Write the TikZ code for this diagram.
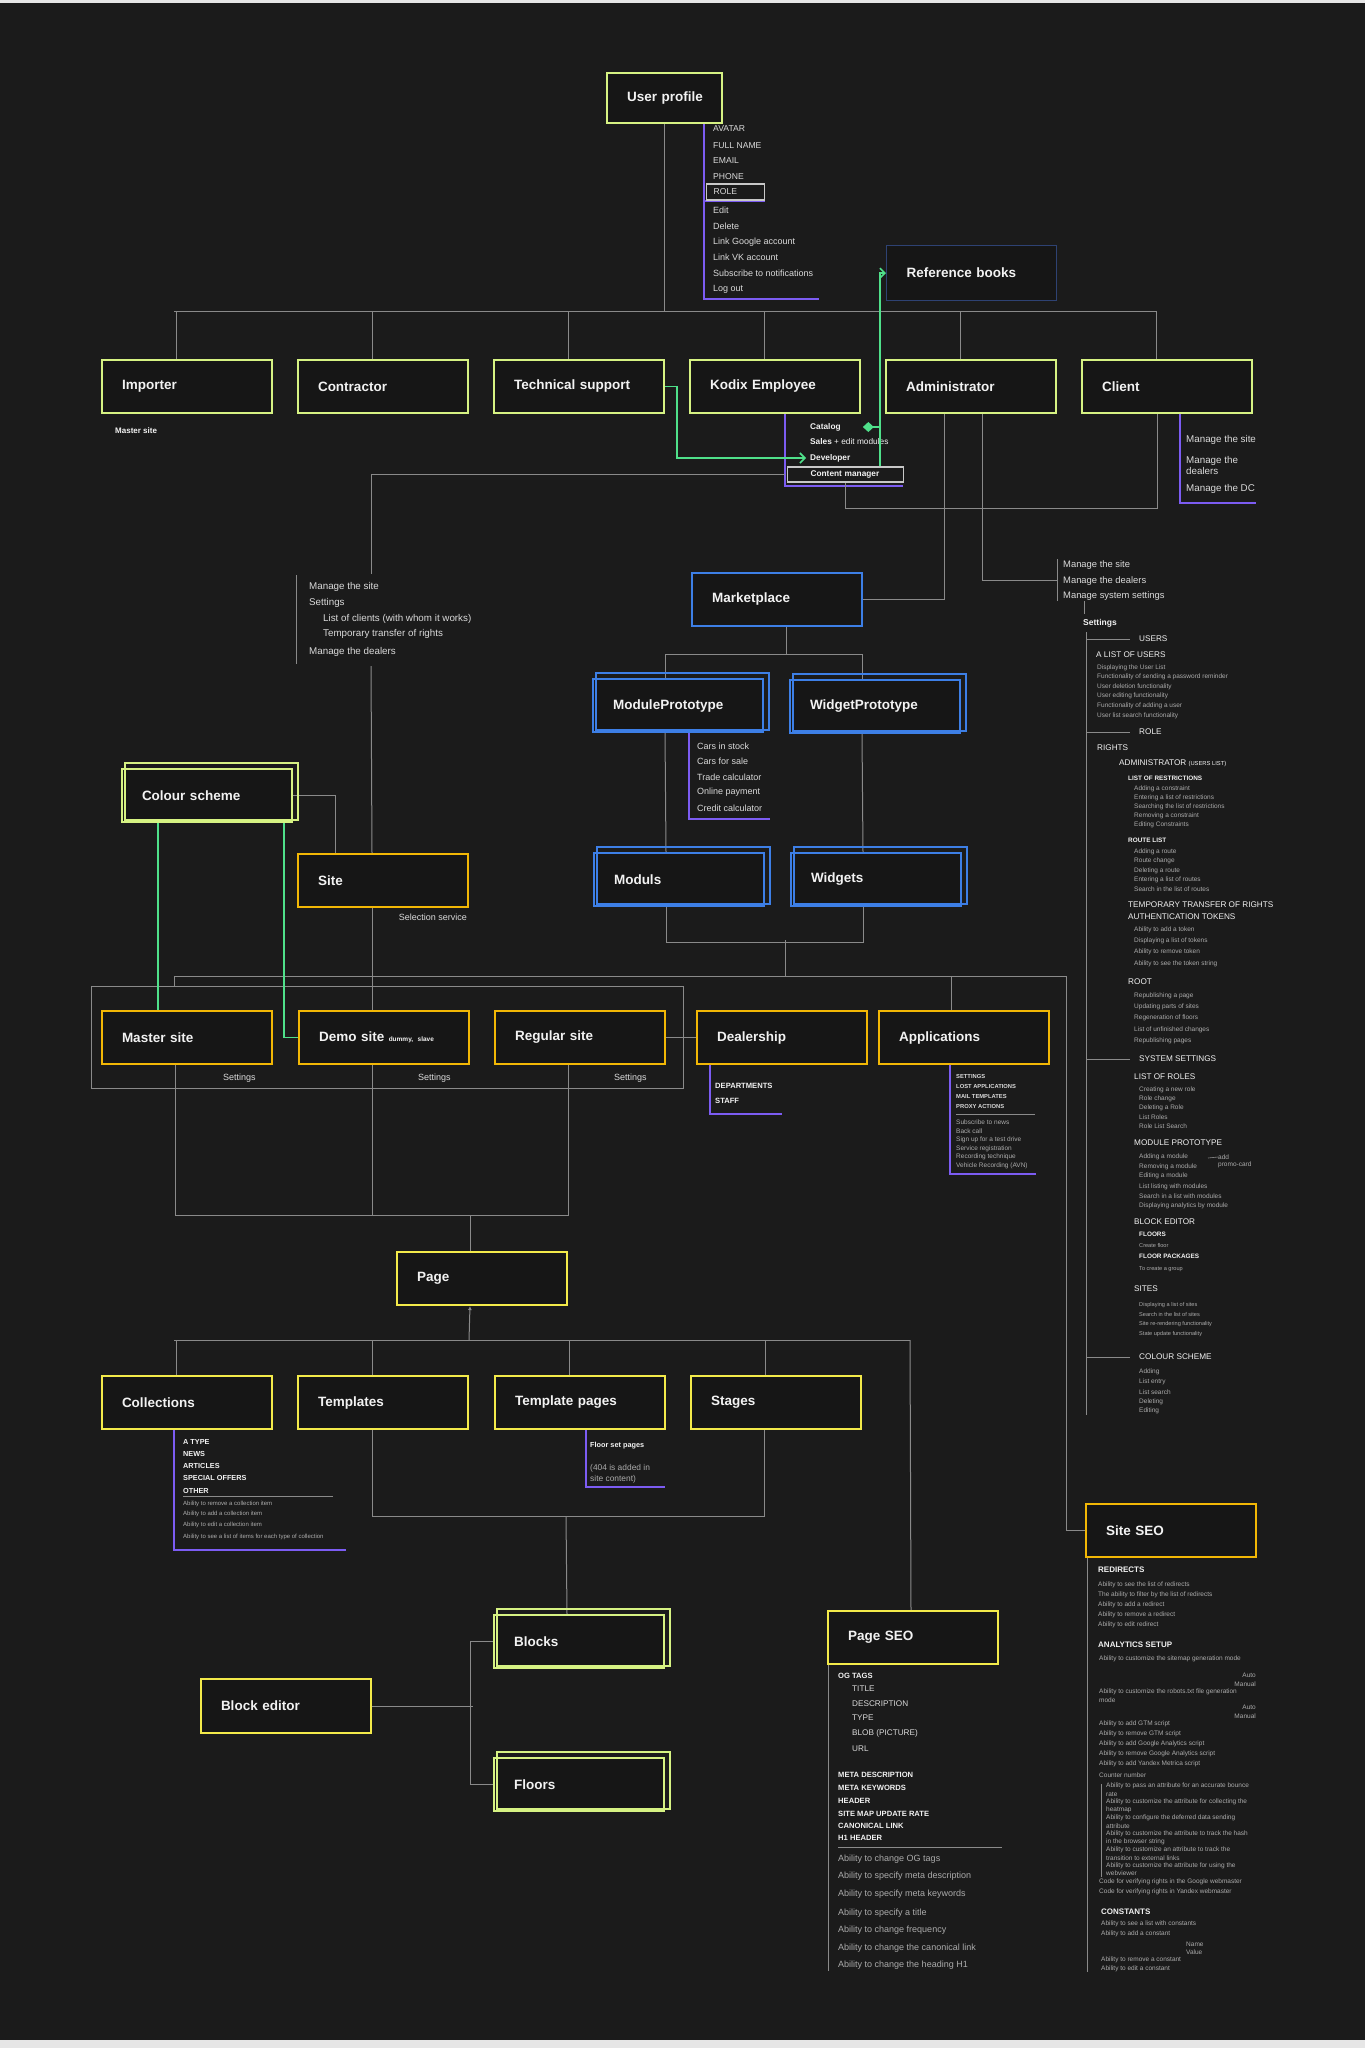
\documentclass[tikz,border=0pt]{standalone}
\usepackage{fontspec}
\setmainfont{Liberation Sans}
\usetikzlibrary{positioning, arrows.meta, calc}

\definecolor{bgC}{HTML}{1B1B1B}
\definecolor{boxC}{HTML}{161616}
\definecolor{limeC}{HTML}{D6F283}
\definecolor{yelC}{HTML}{F3EA4A}
\definecolor{orC}{HTML}{F2B705}
\definecolor{blueC}{HTML}{3D7FE6}
\definecolor{navyC}{HTML}{2E4273}
\definecolor{purC}{HTML}{7C5CF2}
\definecolor{grnC}{HTML}{4FE08A}
\definecolor{wireC}{HTML}{8A8A8A}
\definecolor{frameC}{HTML}{C8C8C8}
\definecolor{titleC}{HTML}{F2F2F2}
\definecolor{itemC}{HTML}{DADADA}
\definecolor{dimC}{HTML}{ABABAB}
\definecolor{edgeC}{HTML}{E6E6E6}

\newcommand\fTitle{\fontsize{13.5}{16}\selectfont\bfseries}
\newcommand\fItem{\fontsize{9}{11}\selectfont}
\newcommand\fText{\fontsize{9.8}{11}\selectfont}
\newcommand\fTiny{\fontsize{6.5}{8}\selectfont}
\newcommand\fMicro{\fontsize{5.6}{7}\selectfont}

\pgfdeclarelayer{back}
\pgfdeclarelayer{wires}
\pgfsetlayers{back,wires,main}

\begin{document}
\begin{tikzpicture}[x=1pt, y=-1pt,
  box/.style={draw, line width=2pt, fill=boxC, anchor=north west,
    minimum width=170pt, minimum height=53pt, text width=130pt,
    inner xsep=20pt, inner ysep=0pt, align=left, text=titleC, font=\fTitle},
  limebox/.style={box, draw=limeC},
  yelbox/.style={box, draw=yelC},
  orbox/.style={box, draw=orC},
  bluebox/.style={box, draw=blueC},
  navybox/.style={box, draw=navyC, line width=1.3pt},
  twin/.style={line width=1.3pt},
  wire/.style={draw=wireC, line width=1pt},
  pur/.style={draw=purC, line width=2.2pt},
  grn/.style={draw=grnC, line width=1.6pt},
  item/.style={anchor=west, inner sep=0pt, text=itemC, font=\fItem},
  capitem/.style={item, font=\fontsize{8.6}{10}\selectfont},
  kitem/.style={item, text=titleC, font=\fontsize{8.3}{10}\selectfont\bfseries},
  txt/.style={item, font=\fText},
  head/.style={item, text=titleC, font=\fontsize{8.2}{10}\selectfont},
  hbold/.style={item, text=titleC, font=\fontsize{6.4}{8}\selectfont\bfseries},
  tiny/.style={item, text=dimC, font=\fTiny},
  micro/.style={item, text=dimC, font=\fMicro},
  capbold/.style={item, text=titleC, font=\fontsize{7.6}{9}\selectfont\bfseries},
  pcap/.style={item, font=\fontsize{8.2}{10}\selectfont},
  pdim/.style={item, text=dimC, font=\fontsize{9}{11}\selectfont},
  abold/.style={item, text=itemC, font=\fontsize{5.8}{7}\selectfont\bfseries},
  dia/.style={{Diamond[length=11pt,width=10pt]}-},
  chev/.style={-{Straight Barb[length=5pt,width=10pt]}}
]

\begin{pgfonlayer}{back}
\fill[bgC] (0,0) rectangle (1365,2048);
\fill[edgeC] (0,0) rectangle (1365,3);
\fill[edgeC] (0,2040) rectangle (1365,2048);
\end{pgfonlayer}
\useasboundingbox (0,0) rectangle (1365,2048);

% ---------- boxes ----------
\node[limebox, minimum width=115pt, minimum height=50pt, text width=75pt] (profile) at (606,72) {\mbox{User profile}};
\node[navybox, minimum height=55pt] (refbooks) at (886,245) {Reference books};

\node[limebox] (importer)   at (101,359)  {Importer};
\node[limebox] (contractor) at (297,359)  {Contractor};
\node[limebox] (support)    at (493,359)  {Technical support};
\node[limebox] (kodix)      at (689,359)  {Kodix Employee};
\node[limebox] (admin)      at (885,359)  {Administrator};
\node[limebox] (client)     at (1081,359) {Client};

\node[bluebox] (market) at (691,572) {Marketplace};
\node[bluebox] (modproto)  at (592,678) {ModulePrototype};
\node[bluebox] (widgproto) at (789,679) {WidgetPrototype};
\node[bluebox] (moduls)    at (593,852) {Moduls};
\node[bluebox] (widgets)   at (790,852) {Widgets};
\node[limebox] (colour)    at (121,768) {Colour scheme};

\node[orbox] (site)    at (297,853)  {Site};
\node[orbox] (master)  at (101,1010) {Master site};
\node[orbox] (demo)    at (298,1010) {Demo site {\fontsize{6.5}{8}\selectfont dummy, slave}};
\node[orbox] (regular) at (494,1010) {Regular site};
\node[orbox] (dealer)  at (696,1010) {Dealership};
\node[orbox] (apps)    at (878,1010) {Applications};

\node[yelbox] (page)        at (396,1251) {Page};
\node[yelbox] (collections) at (101,1375) {Collections};
\node[yelbox] (templates)   at (297,1375) {Templates};
\node[yelbox] (tpages)      at (494,1375) {Template pages};
\node[yelbox] (stages)      at (690,1375) {Stages};

\node[orbox]  (siteseo) at (1085,1503) {Site SEO};
\node[yelbox] (pageseo) at (827,1610)  {Page SEO};
\node[yelbox, minimum width=168pt, minimum height=54pt] (beditor) at (200,1678) {Block editor};
\node[limebox] (blocks) at (493,1614) {Blocks};
\node[limebox] (floors) at (493,1757) {Floors};

% second frames of the doubled boxes
\foreach \n/\c in {modproto/blueC, widgproto/blueC, moduls/blueC, widgets/blueC, colour/limeC, blocks/limeC, floors/limeC}
  \draw[twin, draw=\c] ([xshift=4pt,yshift=5pt]\n.north west) rectangle ([xshift=5pt,yshift=3pt]\n.south east);

% ---------- user profile fields ----------
\foreach \t/\y in {AVATAR/129, FULL NAME/146, EMAIL/161, PHONE/177}
  \node[capitem] at (713,\y) {\t};
\node[capitem, draw=frameC, line width=1.2pt, inner xsep=7pt, minimum height=16pt, text width=44pt] (role) at (706,192) {ROLE};
\foreach \t/\y in {Edit/210, Delete/226, Link Google account/242, Link VK account/257, Subscribe to notifications/273, Log out/289}
  \node[item] at (713,\y) {\t};

% ---------- kodix roles ----------
\node[kitem] (catalog) at (810,427) {Catalog};
\node[kitem] at (810,442) {Sales {\mdseries + edit modules}};
\node[kitem] (developer) at (810,458) {Developer};
\node[kitem, draw=frameC, line width=1.2pt, inner xsep=23pt, minimum height=15pt, text width=70pt] (cmgr) at (787,474.5) {\mbox{Content manager}};

\node[capbold, font=\fontsize{8}{9}\selectfont\bfseries] at (115,431) {Master site};

% ---------- client ----------
\node[txt] at (1186,440) {Manage the site};
\node[txt, align=left] at (1186,465) {Manage the\\dealers};
\node[txt] at (1186,489) {Manage the DC};

% ---------- site rights ----------
\foreach \t/\x/\y in {Manage the site/309/587, Settings/309/603, List of clients (with whom it works)/323/619, Temporary transfer of rights/323/634, Manage the dealers/309/652}
  \node[txt] at (\x,\y) {\t};

% ---------- administrator ----------
\foreach \t/\y in {Manage the site/565, Manage the dealers/581, Manage system settings/596}
  \node[txt, font=\fontsize{9.4}{11}\selectfont] at (1063,\y) {\t};
\node[item, text=titleC, font=\fontsize{8.5}{10}\selectfont\bfseries] at (1083,623) {Settings};

\foreach \t/\x/\y in {USERS/1139/639, A LIST OF USERS/1096/655, ROLE/1139/732, RIGHTS/1097/748, TEMPORARY TRANSFER OF RIGHTS/1128/905, AUTHENTICATION TOKENS/1128/917, ROOT/1128/982, SYSTEM SETTINGS/1139/1059, LIST OF ROLES/1134/1077, MODULE PROTOTYPE/1134/1143, BLOCK EDITOR/1134/1222, SITES/1134/1289, COLOUR SCHEME/1139/1357}
  \node[head] at (\x,\y) {\t};
\node[head] at (1119,763) {ADMINISTRATOR {\fontsize{5.8}{7}\selectfont(USERS LIST)}};
\foreach \t/\x/\y in {LIST OF RESTRICTIONS/1128/778, ROUTE LIST/1128/840, FLOORS/1139/1234, FLOOR PACKAGES/1139/1256}
  \node[hbold] at (\x,\y) {\t};
\foreach \t/\y in {Displaying the User List/668, Functionality of sending a password reminder/677, User deletion functionality/687, User editing functionality/696, Functionality of adding a user/706, User list search functionality/716}
  \node[tiny] at (1097,\y) {\t};
\foreach \t/\y in {Adding a constraint/789, Entering a list of restrictions/798, Searching the list of restrictions/807, Removing a constraint/816, Editing Constraints/825, Adding a route/852, Route change/861, Deleting a route/871, Entering a list of routes/880, Search in the list of routes/889, Ability to add a token/930, Displaying a list of tokens/941, Ability to remove token/952, Ability to see the token string/964, Republishing a page/996, Updating parts of sites/1007, Regeneration of floors/1018, List of unfinished changes/1030, Republishing pages/1041}
  \node[tiny] at (1134,\y) {\t};
\foreach \t/\y in {Creating a new role/1090, Role change/1099, Deleting a Role/1108, List Roles/1117, Role List Search/1126, Adding a module/1157, Removing a module/1167, Editing a module/1176, List listing with modules/1187, Search in a list with modules/1196, Displaying analytics by module/1206, Adding/1372, List entry/1382, List search/1392, Deleting/1402, Editing/1411}
  \node[tiny] at (1139,\y) {\t};
\foreach \t/\y in {Create floor/1245, To create a group/1269, Displaying a list of sites/1305, Search in the list of sites/1314, Site re-rendering functionality/1324, State update functionality/1334}
  \node[micro] at (1139,\y) {\t};
\node[tiny] (addnote) at (1218,1157) {add};
\node[tiny] at (1218,1165) {promo-card};

% ---------- marketplace modules ----------
\foreach \t/\y in {Cars in stock/746, Cars for sale/761, Trade calculator/777, Online payment/792, Credit calculator/808}
  \node[item] at (697,\y) {\t};

% ---------- sites row ----------
\node[item, anchor=east] at (467,917) {Selection service};
\foreach \x in {223,418,614}
  \node[item] at (\x,1078) {Settings};
\foreach \t/\y in {DEPARTMENTS/1086, STAFF/1101}
  \node[capbold] at (715,\y) {\t};
\foreach \t/\y in {SETTINGS/1076, LOST APPLICATIONS/1086, MAIL TEMPLATES/1096, PROXY ACTIONS/1106}
  \node[abold] at (956,\y) {\t};
\foreach \t/\y in {Subscribe to news/1122, Back call/1131, Sign up for a test drive/1140, Service registration/1149, Recording technique/1157, Vehicle Recording (AVN)/1166}
  \node[tiny] at (956,\y) {\t};

% ---------- page children ----------
\foreach \t/\y in {A TYPE/1442, NEWS/1454, ARTICLES/1466, SPECIAL OFFERS/1478, OTHER/1491}
  \node[capbold, font=\fontsize{7.3}{9}\selectfont\bfseries] at (183,\y) {\t};
\foreach \t/\y in {Ability to remove a collection item/1504, Ability to add a collection item/1514, Ability to edit a collection item/1525, Ability to see a list of items for each type of collection/1537}
  \node[tiny, font=\fontsize{6}{7}\selectfont] at (183,\y) {\t};
\node[hbold, font=\fontsize{7.3}{9}\selectfont\bfseries] at (590,1446) {Floor set pages};
\node[item, font=\fontsize{8.4}{10}\selectfont, text=dimC] at (590,1468) {(404 is added in};
\node[item, font=\fontsize{8.4}{10}\selectfont, text=dimC] at (590,1479) {site content)};

% ---------- page seo ----------
\node[capbold] at (838,1676) {OG TAGS};
\foreach \t/\y in {TITLE/1689, DESCRIPTION/1704, TYPE/1718, BLOB (PICTURE)/1733, URL/1749}
  \node[pcap] at (852,\y) {\t};
\foreach \t/\y in {META DESCRIPTION/1775, META KEYWORDS/1788, HEADER/1801, SITE MAP UPDATE RATE/1814, CANONICAL LINK/1826, H1 HEADER/1838}
  \node[capbold] at (838,\y) {\t};
\foreach \t/\y in {Ability to change OG tags/1859, Ability to specify meta description/1876, Ability to specify meta keywords/1894, Ability to specify a title/1913, Ability to change frequency/1930, Ability to change the canonical link/1948, Ability to change the heading H1/1965}
  \node[pdim] at (838,\y) {\t};

% ---------- site seo ----------
\foreach \t/\x/\y in {REDIRECTS/1098/1570, ANALYTICS SETUP/1098/1645, CONSTANTS/1101/1912}
  \node[capbold, font=\fontsize{8}{9}\selectfont\bfseries] at (\x,\y) {\t};
\foreach \t/\y in {Ability to see the list of redirects/1585, The ability to filter by the list of redirects/1595, Ability to add a redirect/1605, Ability to remove a redirect/1615, Ability to edit redirect/1625}
  \node[tiny] at (1098,\y) {\t};
\foreach \t/\y in {Ability to customize the sitemap generation mode/1659, Ability to customize the robots.txt file generation/1692, mode/1700, Ability to add GTM script/1724, Ability to remove GTM script/1734, Ability to add Google Analytics script/1744, Ability to remove Google Analytics script/1754, Ability to add Yandex Metrica script/1764, Counter number/1775, Code for verifying rights in the Google webmaster/1882, Code for verifying rights in Yandex webmaster/1892}
  \node[tiny] at (1099,\y) {\t};
\foreach \t/\y in {Auto/1675, Manual/1684, Auto/1707, Manual/1716}
  \node[tiny, anchor=east] at (1256,\y) {\t};
\foreach \t/\y in {Ability to pass an attribute for an accurate bounce/1786, rate/1794, Ability to customize the attribute for collecting the/1802, heatmap/1810, Ability to configure the deferred data sending/1818, attribute/1826, Ability to customize the attribute to track the hash/1834, in the browser string/1842, Ability to customize an attribute to track the/1850, transition to external links/1858, Ability to customize the attribute for using the/1866, webviewer/1873}
  \node[tiny] at (1106,\y) {\t};
\foreach \t/\x/\y in {Ability to see a list with constants/1101/1924, Ability to add a constant/1101/1934, Name/1186/1944, Value/1186/1952, Ability to remove a constant/1101/1960, Ability to edit a constant/1101/1969}
  \node[tiny] at (\x,\y) {\t};

% ---------- connectors ----------
\begin{pgfonlayer}{wires}
% profile to the roles
\draw[wire] (profile.south) -- ++(0,188);
\draw[wire] (174,311) -- (1157,311);
\foreach \n in {importer,contractor,support,kodix,admin,client}
  \draw[wire] ([xshift=-11pt]\n.north) -- ++(0,-48);
\draw[pur] ([xshift=-19pt]profile.south east) -- ++(0,175) -- ++(115,0);
\draw[pur] ([xshift=-3pt]role.south west) -- (role.south east);
% kodix
\draw[pur] ([xshift=10pt]kodix.south) -- ++(0,72) -- ++(118,0);
\draw[wire] ([xshift=-10pt]client.south) |- ([yshift=-26pt]cmgr.south) -- (cmgr.south);
\draw[wire] ([xshift=-2pt]cmgr.west) -| (371,574);
\draw[wire] (371,666) -- ([xshift=-11pt]site.north);
\draw[wire] (296,575) -- (296,664);
\draw[pur] ([xshift=13pt]client.south) -- ++(0,89) -- ++(76,0);
% administrator
\draw[wire] ([xshift=-27pt]admin.south) |- (market.east);
\draw[wire] ([xshift=11pt]admin.south) |- (1057,580);
\draw[wire] (1057,559) -- (1057,601);
\draw[wire] (1084,601) -- (1084,614);
\draw[wire] (1086,632) -- (1086,1415);
\foreach \y in {639,732,1059,1357}
  \draw[wire] (1086,\y) -- (1130,\y);
\draw[wire, line width=0.6pt] (1208,1158) -- (addnote.west);
% marketplace
\draw[wire] ([xshift=9pt]market.south) -- ++(0,28);
\draw[wire] ([xshift=-13pt]modproto.north) -- ++(0,-24) -| ([xshift=-13pt]widgproto.north);
\draw[wire] ([xshift=-13pt]modproto.south) -- ([xshift=-13pt]moduls.north);
\draw[wire] ([xshift=-13pt]widgproto.south) -- ([xshift=-13pt]widgets.north);
\draw[wire] ([xshift=-13pt]moduls.south) -- ++(0,35) -| ([xshift=-13pt]widgets.south);
\draw[pur] ([xshift=11pt]modproto.south) -- ++(0,86) -- ++(81,0);
\draw[wire] (785,940) -- (785,976);
% sites
\draw[wire] (174,976) -- (1066,976);
\draw[wire] (174,976) -- (174,986);
\draw[wire] (91,986) rectangle (683,1088);
\draw[wire] ([xshift=-13pt]apps.north) -- ++(0,-34);
\draw[wire] (1066,976) |- (siteseo.west);
\draw[wire] (colour.east) -| ([xshift=-48pt]site.north);
\draw[wire] ([xshift=-11pt]site.south) -- ([xshift=-12pt]demo.north);
\draw[wire] (regular.east) -- (dealer.west);
\draw[pur] ([xshift=-72pt]dealer.south) -- ++(0,49) -- ++(72,0);
\draw[pur] ([xshift=-14pt]apps.south) -- ++(0,109) -- ++(86,0);
\draw[wire] (956,1114) -- (1035,1114);
% page
\draw[wire] ([xshift=-12pt]master.south) -- ++(0,150) -| ([xshift=-12pt]regular.south);
\draw[wire] ([xshift=-12pt]demo.south) -- ++(0,150);
\draw[wire] ([xshift=-12pt]page.north) -- ++(0,-36);
\draw[wire, -{Latex[length=4pt,width=4pt]}] (469,1340) -- ([xshift=-12pt]page.south);
\draw[wire] (174,1340) -- (910,1340);
\foreach \n in {collections,templates,tpages,stages}
  \draw[wire] ([xshift=-11pt]\n.north) -- ++(0,-35);
\draw[wire] (910,1340) -- ([xshift=-2pt]pageseo.north);
\draw[pur] ([xshift=-13pt]collections.south) -- ++(0,120) -- ++(172,0);
\draw[wire] (183,1496) -- (333,1496);
\draw[pur] ([xshift=6pt]tpages.south) -- ++(0,57) -- ++(79,0);
\draw[wire] ([xshift=-11pt]templates.south) -- ++(0,86) -| ([xshift=-12pt]stages.south);
\draw[wire] (566,1516) -- ([xshift=-12pt]blocks.north);
\draw[wire] (beditor.east) -- ++(101,0);
\draw[wire] (blocks.west) -- ++(-23,0) |- (floors.west);
\draw[wire] ([xshift=1pt]pageseo.south west) -- ++(0,306);
\draw[wire] (838,1847) -- (1002,1847);
\draw[wire] ([xshift=2pt]siteseo.south west) -- ++(0,414);
\draw[wire] (1101,1784) -- (1101,1877);
\end{pgfonlayer}

% ---------- green links ----------
\draw[grn, dia, chev] (support.east) -- ++(12,0) |- ([xshift=-4pt]developer.west);
\draw[grn, dia] ([xshift=22pt]catalog.east) -- ++(17,0);
\draw[grn, dia, chev] ([xshift=-24pt]cmgr.north east) |- (refbooks.west);
\draw[grn] ([xshift=-49pt]colour.south) -- ([xshift=-29pt]master.north);
\draw[grn] ([xshift=77pt]colour.south) |- (demo.west);

\end{tikzpicture}
\end{document}
